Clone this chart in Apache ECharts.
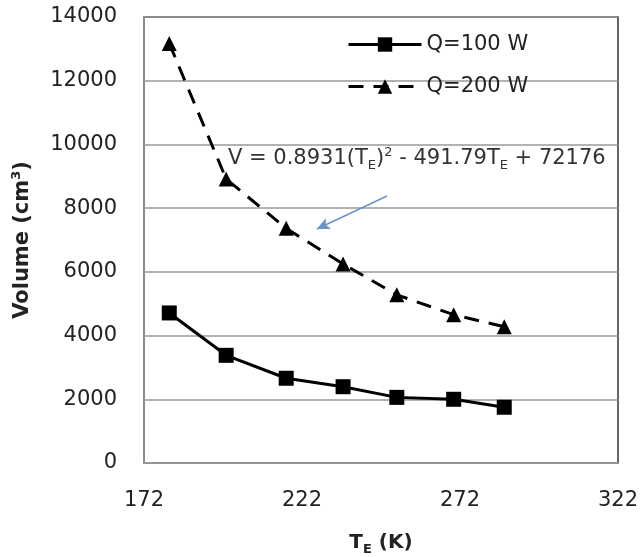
<!DOCTYPE html>
<html>
<head>
<meta charset="utf-8">
<title>Volume vs T_E</title>
<script src="https://cdn.jsdelivr.net/npm/echarts@6/dist/echarts.min.js"></script>
<style>
  html, body { margin: 0; padding: 0; background: #fff; }
  #chart { width: 643px; height: 557px; }
</style>
</head>
<body>
<div id="chart"></div>
<script>
// ===== Data =====
const tempK   = [180, 198, 217, 235, 252, 270, 286];
const volQ100 = [4710, 3380, 2660, 2395, 2060, 2000, 1750];
const volQ200 = [13170, 8915, 7365, 6245, 5280, 4655, 4275];
const xTicks  = [172, 222, 272, 322];
const yTicks  = [0, 2000, 4000, 6000, 8000, 10000, 12000, 14000];

// arrow of the fit annotation, in data units (from -> to)
const arrowFrom = [248.9, 8380];
const arrowTo   = [226.7, 7345];

const FONT = 'DejaVu Sans';

const pairs = (xs, ys) => xs.map((x, i) => [x, ys[i]]);

// ===== Chart =====
const chart = echarts.init(document.getElementById('chart'), null, { renderer: 'canvas' });

const subRich = {
  sub: { fontFamily: FONT, fontSize: 13, lineHeight: 13, verticalAlign: 'bottom', color: '#222' },
  sup: { fontFamily: FONT, fontSize: 13, lineHeight: 13, verticalAlign: 'top', color: '#222' }
};

const option = {
  animation: false,
  backgroundColor: '#fff',
  textStyle: { fontFamily: FONT },
  grid: {
    left: 144, right: 25, top: 17, bottom: 94,
    outerBoundsMode: 'none',
    containLabel: false,
    show: true, borderColor: '#333', borderWidth: 1.5
  },
  legend: {
    orient: 'vertical',
    left: 342, top: 29,
    itemWidth: 73, itemHeight: 18, itemGap: 21,
    lineStyle: { width: 3 },
    textStyle: { fontFamily: FONT, fontSize: 21, color: '#222' },
    data: ['Q=100 W', 'Q=200 W']
  },
  xAxis: {
    type: 'value',
    min: 172, max: 322, interval: 50,
    name: 'T{sub|E} (K)',
    nameLocation: 'middle',
    nameGap: 67,
    nameTextStyle: {
      fontFamily: FONT, fontSize: 20, fontWeight: 'bold', color: '#222', lineHeight: 26,
      rich: { sub: { fontFamily: FONT, fontSize: 13, fontWeight: 'bold', lineHeight: 13, verticalAlign: 'bottom', color: '#222' } }
    },
    axisLine: { show: true, lineStyle: { color: '#999', width: 1.5 } },
    axisTick: { show: false },
    splitLine: { show: false },
    axisLabel: {
      margin: 27, fontFamily: FONT, fontSize: 21, color: '#222',
      formatter: v => (xTicks.includes(v) ? String(v) : '')
    }
  },
  yAxis: {
    type: 'value',
    min: 0, max: 14000, interval: 2000,
    name: 'Volume (cm{sup|3})',
    nameLocation: 'middle',
    nameGap: 108,
    nameRotate: 90,
    nameTextStyle: {
      fontFamily: FONT, fontSize: 21, fontWeight: 'bold', color: '#222', lineHeight: 26,
      rich: { sup: { fontFamily: FONT, fontSize: 13, fontWeight: 'bold', lineHeight: 13, verticalAlign: 'top', color: '#222' } }
    },
    axisLine: { show: true, lineStyle: { color: '#999', width: 1.5 } },
    axisTick: { show: false },
    splitLine: { show: true, lineStyle: { color: '#999', width: 1.5 } },
    axisLabel: {
      margin: 27, fontFamily: FONT, fontSize: 21, color: '#222',
      formatter: v => (yTicks.includes(v) ? String(v) : '')
    }
  },
  series: [
    {
      name: 'Q=100 W',
      type: 'line',
      data: pairs(tempK, volQ100),
      symbol: 'rect',
      symbolSize: 15,
      itemStyle: { color: '#000' },
      lineStyle: { color: '#000', width: 3 },
      z: 3
    },
    {
      name: 'Q=200 W',
      type: 'line',
      data: pairs(tempK, volQ200),
      symbol: 'triangle',
      symbolSize: 15,
      itemStyle: { color: '#000' },
      lineStyle: { color: '#000', width: 3, type: [15, 10] },
      z: 3,
      markLine: {
        silent: true,
        symbol: ['none', 'arrow'],
        symbolSize: [9, 13],
        label: { show: false },
        lineStyle: { color: '#6b93c9', width: 1.5, type: 'solid' },
        data: [[{ coord: arrowFrom }, { coord: arrowTo }]]
      }
    }
  ],
  graphic: [
    {
      type: 'text',
      left: 228, top: 146,
      z: 10,
      style: {
        text: 'V = 0.8931(T{sub|E}){sup|2} - 491.79T{sub|E} + 72176',
        fontFamily: FONT, fontSize: 21, lineHeight: 26, fill: '#333',
        rich: subRich
      }
    }
  ]
};

chart.setOption(option);
</script>
</body>
</html>
